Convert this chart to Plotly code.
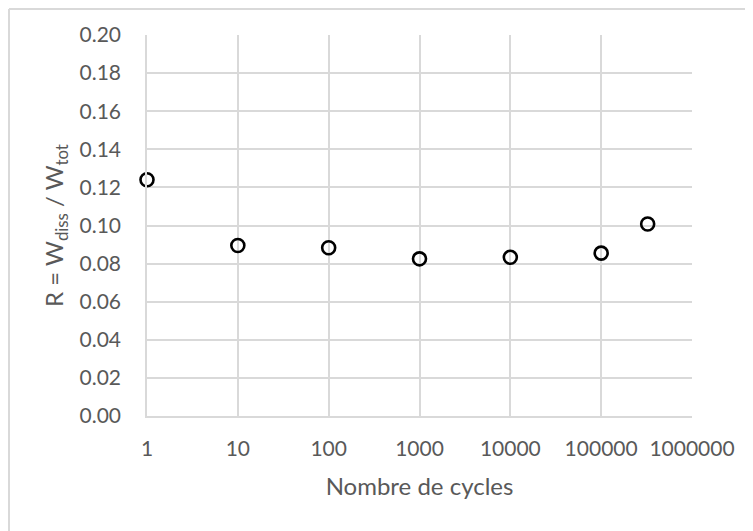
import plotly.graph_objects as go

# Nombre de cycles vs R = Wdiss / Wtot
cycles = [1, 10, 100, 1000, 10000, 100000, 325000]
ratio = [0.124, 0.0895, 0.0883, 0.0825, 0.0833, 0.0855, 0.1008]
x_ticks = [1, 10, 100, 1000, 10000, 100000, 1000000]

FONT = "Lato, Open Sans, sans-serif"
TEXT_COLOR = "#595959"
GRID = "#d9d9d9"

fig = go.Figure()
fig.add_trace(go.Scatter(
    x=cycles, y=ratio, mode="markers",
    marker=dict(symbol="circle-open", size=13, color="black",
                line=dict(width=2.6, color="black")),
    showlegend=False, cliponaxis=False,
))

fig.update_xaxes(
    type="log", range=[0, 6],
    tickvals=x_ticks, ticktext=[str(v) for v in x_ticks],
    showgrid=True, gridcolor=GRID, gridwidth=1.5,
    showline=True, linecolor=GRID, linewidth=1.5,
    ticks="", ticklabelstandoff=13,
    tickfont=dict(size=21, color=TEXT_COLOR, family=FONT),
    title=dict(text="Nombre de cycles", standoff=19,
               font=dict(size=24, color=TEXT_COLOR, family=FONT)),
    zeroline=False,
)
fig.update_yaxes(
    range=[0, 0.2], dtick=0.02, tickformat=".2f",
    showgrid=True, gridcolor=GRID, gridwidth=1.5,
    showline=True, linecolor=GRID, linewidth=1.5,
    ticks="", ticklabelstandoff=20,
    tickfont=dict(size=21, color=TEXT_COLOR, family=FONT),
    title=dict(text="R = W<sub>diss</sub> / W<sub>tot</sub>", standoff=9,
               font=dict(size=24, color=TEXT_COLOR, family=FONT)),
    zeroline=False,
)

# page body adds an 8px offset, so the margins are shifted to keep
# the plot area where it sits in the original screenshot
L, T, W, H = 147, 35, 545, 381

# chart-area border (only top and left visible in the crop)
bx = (9 - L) / W
by = (T + H - 9) / H
fig.add_shape(type="line", xref="paper", yref="paper",
              x0=bx, x1=1.2, y0=by, y1=by,
              line=dict(color=GRID, width=2), layer="below")
fig.add_shape(type="line", xref="paper", yref="paper",
              x0=bx, x1=bx, y0=by, y1=-0.4,
              line=dict(color=GRID, width=2), layer="below")

fig.update_layout(
    width=753, height=531,
    margin=dict(l=L - 8, r=753 - (L - 8) - W, t=T - 8, b=531 - (T - 8) - H),
    plot_bgcolor="white", paper_bgcolor="white",
)

fig.write_html("out.html")
